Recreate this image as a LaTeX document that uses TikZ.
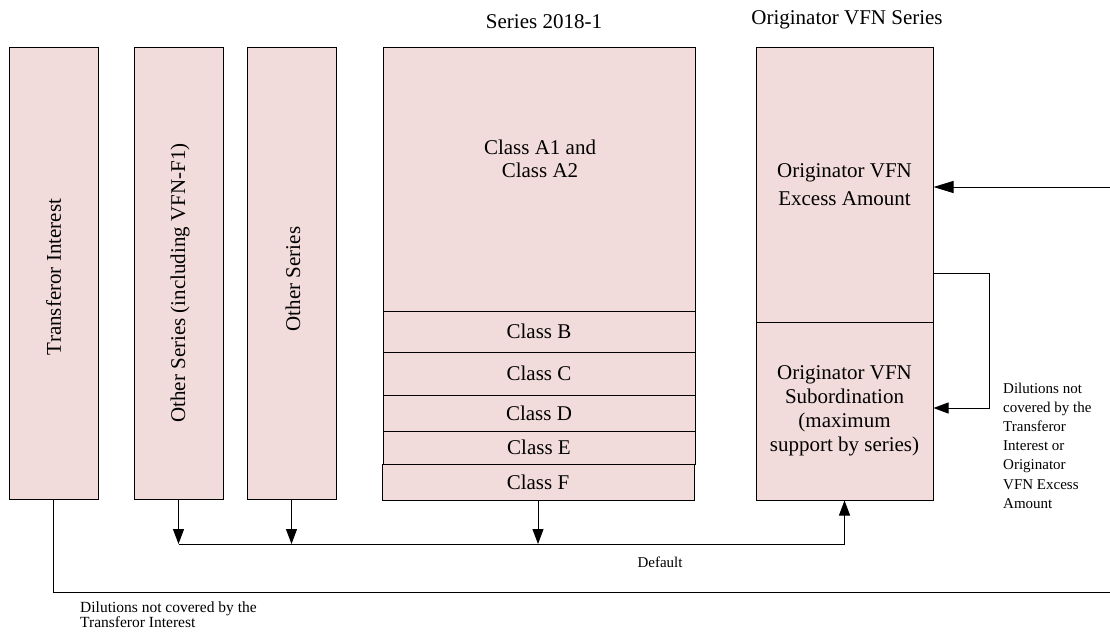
\documentclass[tikz,border=0pt]{standalone}
\usepackage{fontspec}
\setmainfont{Liberation Serif}
\usetikzlibrary{arrows.meta}
\definecolor{boxpink}{HTML}{F2DCDB}
\tikzset{
  bx/.style={draw=black, fill=boxpink, line width=1pt, inner sep=0pt, align=center,
    font=\fontsize{21}{24}\selectfont},
  vtext/.style={rotate=90, inner sep=0pt, font=\fontsize{21}{24}\selectfont},
  arr/.style={line width=1pt, -{Triangle[length=15pt,width=11pt]}},
  ln/.style={line width=1pt},
  small/.style={inner sep=0pt, align=left, font=\fontsize{15}{19.2}\selectfont},
  ttl/.style={inner sep=0pt, font=\fontsize{21}{24}\selectfont}
}
\begin{document}
\begin{tikzpicture}[x=1pt,y=-1pt]
\useasboundingbox (0,0) rectangle (1110,641);
% titles
\node[ttl] (t1) at (544,22) {Series 2018-1};
\node[ttl] (t2) at (847,20) {Originator VFN Series};
% left boxes
\node[bx, minimum width=89pt, minimum height=452pt] (ti) at (53.5,273) {};
\node[vtext] (tiT) at (53.5,277) {Transferor Interest};
\node[bx, minimum width=89pt, minimum height=452pt] (os1) at (178.5,273) {};
\node[vtext] (os1T) at (180,283) {Other Series (including VFN-F1)};
\node[bx, minimum width=89pt, minimum height=452pt] (os2) at (291.5,273) {};
\node[vtext] (os2T) at (293,279) {Other Series};
% series 2018-1
\node[bx, minimum width=312pt, minimum height=264pt] (ca) at (539,179) {};
\node[inner sep=0pt, align=center, font=\fontsize{21}{23}\selectfont] (caT) at (540,159) {Class A1 and\\Class A2};
\node[bx, minimum width=312pt, minimum height=41pt] (cb) at (539,331.5) {Class B};
\node[bx, minimum width=312pt, minimum height=43pt] (cc) at (539,373.5) {Class C};
\node[bx, minimum width=312pt, minimum height=36pt] (cd) at (539,413) {Class D};
\node[bx, minimum width=312pt, minimum height=33pt] (ce) at (539,447.5) {Class E};
\node[bx, minimum width=312pt, minimum height=36pt] (cf) at (538,482) {Class F};
% originator VFN series
\node[bx, minimum width=177pt, minimum height=275pt, font=\fontsize{21}{28}\selectfont] (ovx) at (844.5,184.5) {Originator VFN\\Excess Amount};
\node[bx, minimum width=177pt, minimum height=178pt, font=\fontsize{21}{24}\selectfont] (ovs) at (844.5,411) {Originator VFN\\Subordination\\(maximum\\support by series)};
% default bus
\coordinate (bus) at (0,544);
\draw[arr] (os1.south) -- (os1.south |- bus);
\draw[arr] (os2.south) -- (os2.south |- bus);
\draw[arr] (cf.south) -- (cf.south |- bus);
\draw[ln] (os1.south |- bus) -- (ovs.south |- bus);
\draw[arr] (ovs.south |- bus) -- (ovs.south);
\node[inner sep=0pt, font=\fontsize{15}{18}\selectfont] (def) at (660,562) {Default};
% dilutions from transferor interest
\coordinate (rb) at (1110,592);
\draw[ln] (ti.south) |- (rb);
\node[small, anchor=west, font=\fontsize{15.5}{13.4}\selectfont] (dil1) at (80,614.5) {Dilutions not covered by the\\Transferor Interest};
% incoming arrow from right
\coordinate (rin) at (1110,187);
\draw[line width=1pt, -{Triangle[length=20pt,width=12pt]}] (rin) -- (rin -| ovx.east);
% bracket arrow excess -> subordination
\coordinate (bk) at (989,273);
\draw[arr] (bk -| ovx.east) -- (bk) |- ([yshift=3pt]ovs.east);
\node[small, anchor=west] (dil2) at (1003,445.5) {Dilutions not\\covered by the\\Transferor\\Interest or\\Originator\\VFN Excess\\Amount};
\end{tikzpicture}
\end{document}
